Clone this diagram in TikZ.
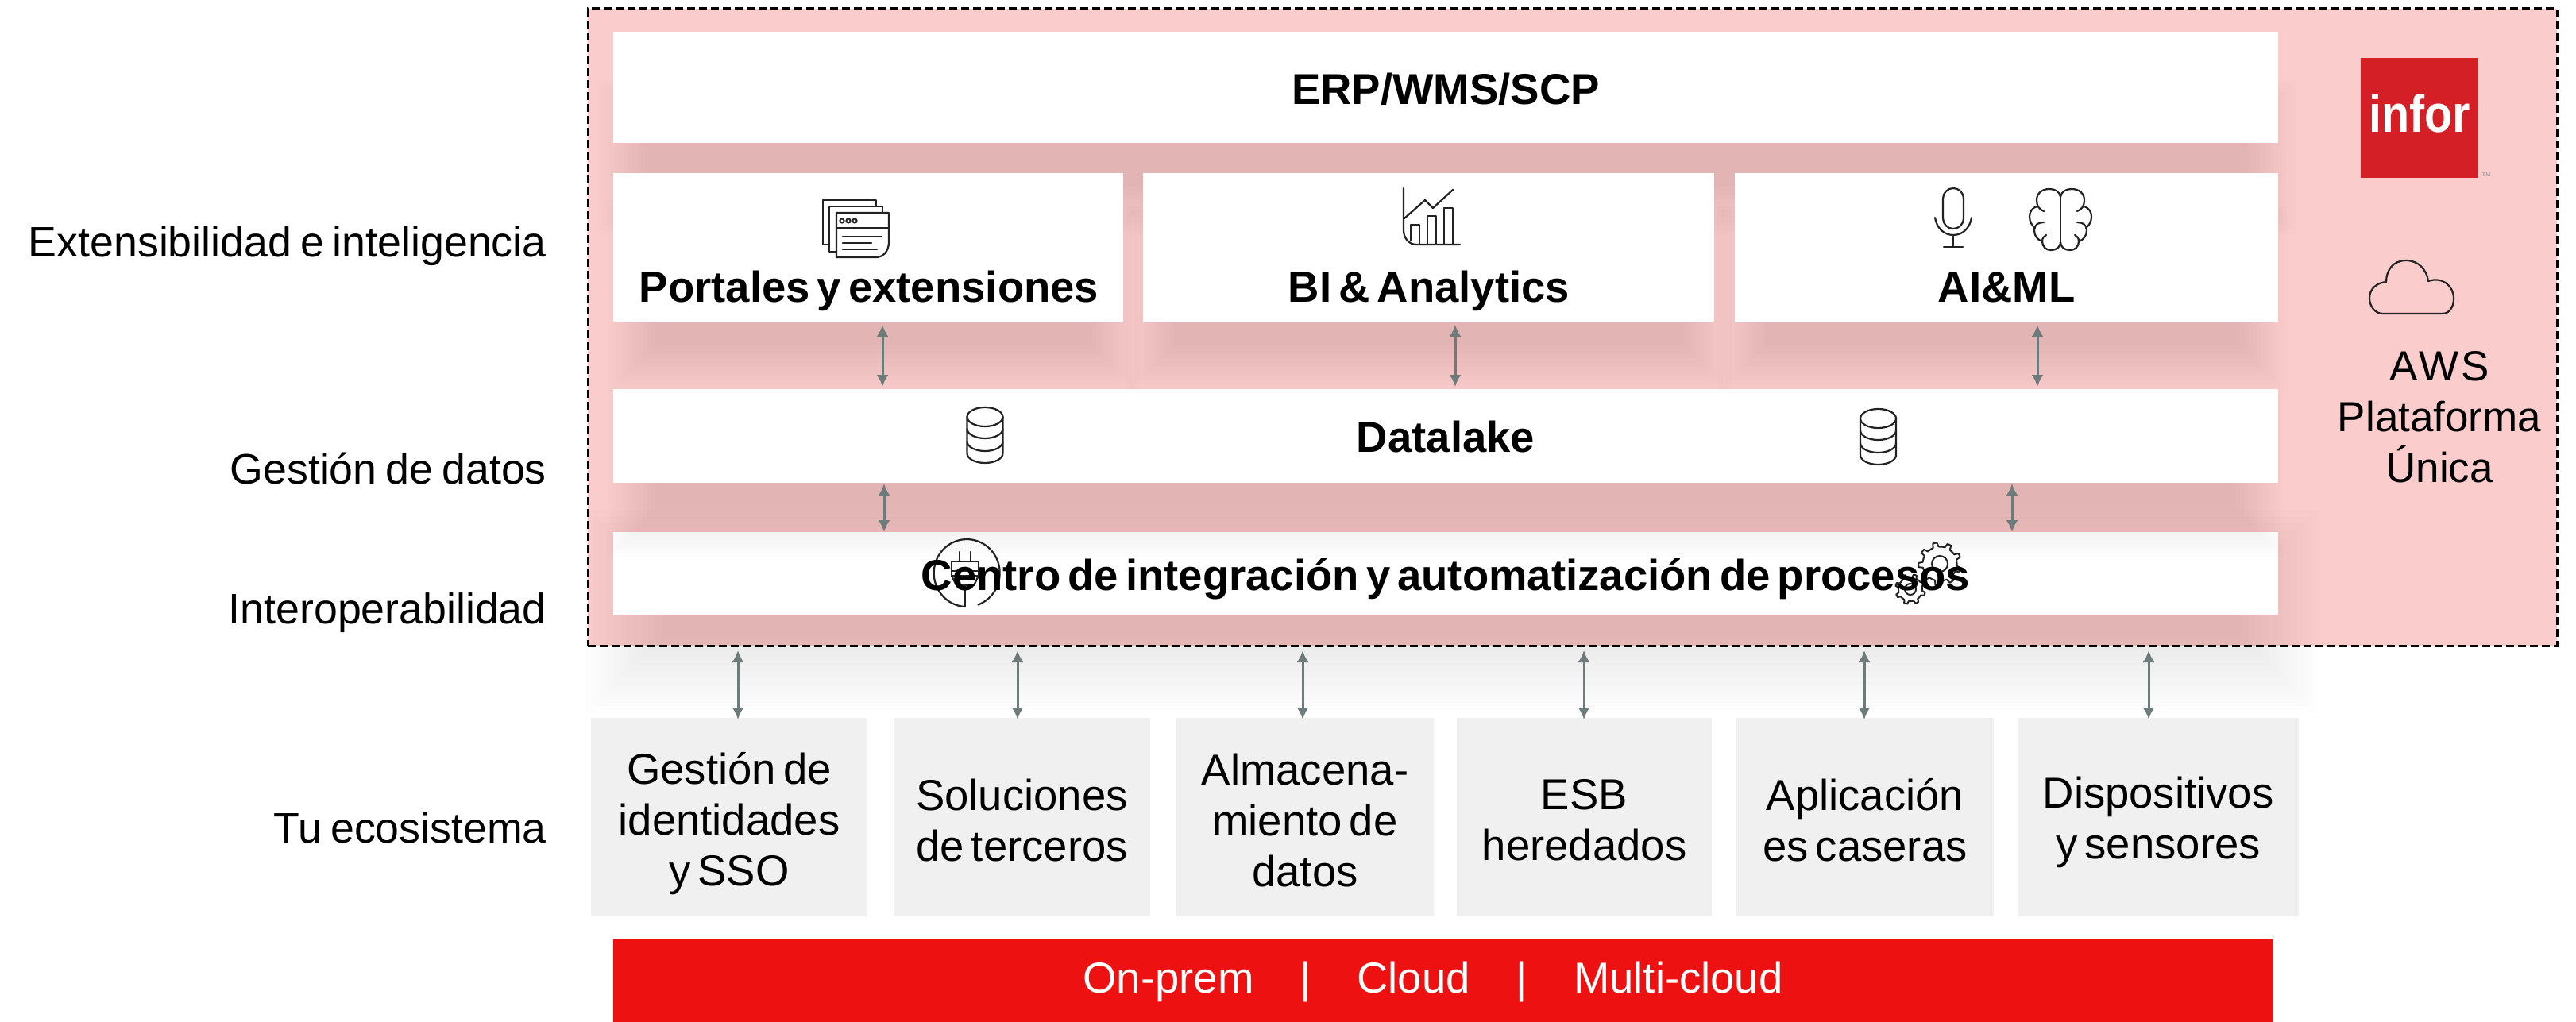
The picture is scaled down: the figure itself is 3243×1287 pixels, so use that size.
\documentclass[tikz,border=0pt]{standalone}
\usepackage{fontspec}
\setmainfont[WordSpace=0.6]{Liberation Sans}
\usetikzlibrary{arrows.meta,calc}
\definecolor{framepink}{HTML}{FBCCCC}
\definecolor{ecogray}{HTML}{F0F0F0}
\definecolor{barred}{HTML}{EE1111}
\definecolor{logored}{HTML}{D41F26}
\definecolor{arrowgray}{HTML}{6E7B7B}
\definecolor{iconink}{HTML}{222222}
\newcommand{\sidesp}{\spaceskip=11pt\relax}
\tikzset{
  panelbox/.style={rectangle,fill=white,inner sep=0pt,outer sep=0pt},
  ecobox/.style={rectangle,fill=ecogray,inner sep=0pt,outer sep=0pt},
  barbox/.style={rectangle,fill=barred,inner sep=0pt,outer sep=0pt},
  logobox/.style={rectangle,fill=logored,inner sep=0pt,outer sep=0pt},
  framebox/.style={rectangle,fill=framepink,draw=black,line width=3pt,dash pattern=on 10pt off 5pt,inner sep=0pt,outer sep=0pt},
  reg/.style={inner sep=0pt,align=center,font=\fontsize{54.5}{64}\selectfont},
  strong/.style={inner sep=0pt,align=center,font=\fontsize{54.5}{64}\selectfont\bfseries},
  sidelabel/.style={inner sep=0pt,anchor=east,font=\fontsize{53.7}{64}\selectfont},
  biarrow/.style={draw=arrowgray,line width=3pt,{Latex[length=15pt,width=15pt]}-{Latex[length=15pt,width=15pt]}},
  icon/.style={draw=iconink,line width=2.2pt,line join=round,line cap=round},
}
\newcommand{\panel}[6]{\node[#6,minimum width={#4-#2},minimum height={#5-#3}] (#1) at ({(#2+#4)/2},{(#3+#5)/2}) {};}
% x1 y1 x2 y2 blur half-width
\newcommand{\blurshadow}[5]{%
  \foreach \i in {0,...,11}{
    \fill[black,opacity=.006] ({#1-#5+\i*#5*2/11},{#2-#5+\i*#5*2/11}) rectangle ({#3+#5-\i*#5*2/11},{#4+#5-\i*#5*2/11});
  }}
\newcommand{\dbicon}[2]{%
  \begin{scope}[shift={(#1,#2)}]
    \draw[icon,fill=white] (-22.5,12) -- (-22.5,58) arc[start angle=180,end angle=0,x radius=22.5,y radius=12] -- (22.5,12);
    \draw[icon] (0,12) ellipse[x radius=22.5,y radius=12];
    \draw[icon] (-22.5,27) arc[start angle=180,end angle=0,x radius=22.5,y radius=12];
    \draw[icon] (-22.5,43) arc[start angle=180,end angle=0,x radius=22.5,y radius=12];
  \end{scope}}
\newcommand{\gearpath}[4]{%
  \pgfmathsetmacro{\gstep}{360/#4}
  \pgfmathsetmacro{\ginner}{#3*0.8}
  \draw[icon,line width=2pt,shift={(#1,#2)}]
    (0:\ginner)
    \foreach \k in {1,...,#4}{
      -- ({(\k-1)*\gstep+.18*\gstep}:\ginner)
      -- ({(\k-1)*\gstep+.28*\gstep}:#3)
      -- ({(\k-1)*\gstep+.55*\gstep}:#3)
      -- ({(\k-1)*\gstep+.65*\gstep}:\ginner)
      -- ({\k*\gstep}:\ginner)
    };}
\newcommand{\brainhalf}[1]{%
  \begin{scope}[shift={(2594,0)},xscale=#1]
    \draw[icon] (0,248) .. controls (1,241) and (7,238) .. (14,238) .. controls (24,238) and (30,244) .. (30,252) .. controls (30,259) and (27,264) .. (21,266);
    \draw[icon] (30,260) .. controls (36,262) and (39,267) .. (39,273) .. controls (39,279) and (36,284) .. (32,287);
    \draw[icon] (21,280) .. controls (28,280) and (33,283) .. (33,290) .. controls (33,297) and (29,302) .. (23,304);
    \draw[icon] (18,296) .. controls (21,297) and (23,300) .. (23,304) .. controls (23,311) and (18,315) .. (12,315) .. controls (5,315) and (0,311) .. (0,305);
  \end{scope}}
\begin{document}
\begin{tikzpicture}[x=1pt,y=-1pt]
\useasboundingbox (0,0) rectangle (3243,1287);
% frame
\panel{frame}{740}{11}{3219}{813}{framebox}
% shadows that lie under everything
\blurshadow{782}{130}{2860}{265}{30}
\blurshadow{795}{290}{1405}{465}{30}
\blurshadow{1448}{290}{2150}{465}{30}
\blurshadow{2192}{290}{2850}{465}{30}
% integration layer
\blurshadow{785}{690}{2870}{850}{48}
\panel{centro}{772}{670}{2868}{774}{panelbox}
% data layer
\blurshadow{795}{520}{2845}{672}{30}
\panel{datalake}{772}{490}{2868}{608}{panelbox}
% top layers
\panel{portales}{772}{218}{1414}{406}{panelbox}
\panel{bi}{1439}{218}{2158}{406}{panelbox}
\panel{aiml}{2184}{218}{2868}{406}{panelbox}
\panel{erp}{772}{40}{2868}{180}{panelbox}
% ecosystem
\panel{ecoa}{744}{904}{1092}{1154}{ecobox}
\panel{ecob}{1125}{904}{1448}{1154}{ecobox}
\panel{ecoc}{1481}{904}{1805}{1154}{ecobox}
\panel{ecod}{1834}{904}{2155}{1154}{ecobox}
\panel{ecoe}{2186}{904}{2510}{1154}{ecobox}
\panel{ecof}{2540}{904}{2894}{1154}{ecobox}
\panel{bar}{772}{1183}{2862}{1287}{barbox}
% logo
\panel{logo}{2972}{73}{3120}{224}{logobox}
\node[inner sep=0pt,anchor=base,text=white,xscale=.87,font=\fontsize{66}{68}\selectfont\bfseries] (logotext) at (3046,166) {infor};
\node[inner sep=0pt,text=black!45,font=\fontsize{7}{8}\selectfont] (logotm) at (3130,220) {TM};
% icons
\begin{scope}
  \draw[icon,fill=white] (1036,252) rectangle (1103,308);
  \draw[icon,fill=white] (1044,260) rectangle (1111,317);
  \draw[icon,fill=white] (1053,268) -- (1119,268) -- (1119,305) .. controls (1119,316) and (1112,324) .. (1103,324) -- (1053,324) -- cycle;
  \draw[icon] (1053,287) -- (1119,287);
  \draw[icon,line width=2pt] (1060,278) circle[radius=2.6] (1068,278) circle[radius=2.6] (1076,278) circle[radius=2.6];
  \draw[icon] (1061,298) -- (1110,298) (1061,306) -- (1097,306) (1061,314) -- (1104,314);
\end{scope}
\begin{scope}
  \draw[icon] (1767,237) -- (1767,290) .. controls (1767,300) and (1774,308) .. (1783,308) -- (1838,308);
  \draw[icon] (1776,303) -- (1776,283) -- (1787,283) -- (1787,308);
  \draw[icon] (1797,308) -- (1797,272) -- (1808,272) -- (1808,308);
  \draw[icon] (1818,308) -- (1818,262) -- (1829,262) -- (1829,308);
  \draw[icon] (1768,275) -- (1794,252) -- (1804,262) -- (1829,239);
\end{scope}
\draw[icon] (2446,250) arc[start angle=180,end angle=360,radius=13] -- (2472,275) arc[start angle=0,end angle=180,radius=13] -- cycle;
\draw[icon] (2436,274) .. controls (2438,287) and (2447,296) .. (2459,296) .. controls (2471,296) and (2480,287) .. (2482,274);
\draw[icon] (2459,296) -- (2459,311) (2447,311) -- (2471,311);
\brainhalf{1}
\brainhalf{-1}
\draw[icon] (2594,247) -- (2594,306);
\draw[icon] (3000,395) .. controls (2990,395) and (2983,386) .. (2983,375) .. controls (2983,364) and (2992,356) .. (3004,355) .. controls (3004,340) and (3013,328) .. (3029,328) .. controls (3045,328) and (3055,340) .. (3057,354) .. controls (3075,348) and (3089,360) .. (3089,376) .. controls (3089,386) and (3084,395) .. (3075,395) -- cycle;
\dbicon{1240}{513}
\dbicon{2364.5}{515}
% plug
\draw[icon] (1215,764) arc[start angle=93,end angle=430,x radius=41.5,y radius=42.5];
\draw[icon] (1198,707) rectangle (1232,725) (1198,719) -- (1232,719);
\draw[icon] (1208,695) -- (1208,707) (1222,695) -- (1222,707);
\draw[icon] (1198,725) -- (1204,737) -- (1226,737) -- (1232,725);
\draw[icon] (1215,737) -- (1215,764);
% gears
\gearpath{2442}{710}{27}{9}
\draw[icon,line width=2pt] (2442,710) circle[radius=10];
\gearpath{2405}{742}{19}{8}
\draw[icon,line width=2pt] (2405,742) circle[radius=7];
% texts
\node[strong] (terp) at (1820,112) {ERP/WMS/SCP};
\node[strong,anchor=base] (tport) at (1094,380) {Portales y extensiones};
\node[strong,anchor=base] (tbi) at (1799,380) {BI \& Analytics};
\node[strong,anchor=base] (tai) at (2526,380) {AI\&ML};
\node[strong,anchor=base] (tdata) at (1820,569) {Datalake};
\node[strong,anchor=base] (tcentro) at (1820,743) {Centro de integración y automatización de procesos};
\node[sidelabel] (la) at (688,310) {\sidesp Extensibilidad e inteligencia};
\node[sidelabel] (lb) at (688,590) {\sidesp Gestión de datos};
\node[sidelabel] (lc) at (688,772) {Interoperabilidad};
\node[sidelabel] (ld) at (688,1042) {\sidesp Tu ecosistema};
\node[reg,font=\fontsize{53}{64}\selectfont] (tplat) at (3071,525) {A\kern2pt W\kern2pt S\\Plataforma\\Única};
\node[reg,yshift=-8pt] at (ecoa) (tea) {Gestión de\\identidades\\y SSO};
\node[reg,yshift=-4pt] at (ecob) (teb) {Soluciones\\de terceros};
\node[reg,yshift=-4pt] at (ecoc) (tec) {Almacena-\\miento de\\datos};
\node[reg,yshift=-4pt] at (ecod) (ted) {ESB\\heredados};
\node[reg,yshift=-4pt] at (ecoe) (tee) {Aplicación\\es caseras};
\node[reg,yshift=-6pt] at (ecof) (tef) {Dispositivos\\y sensores};
\node[reg,text=white,yshift=-4pt] (tbar) at (1804,1233) {On-prem\hspace{58pt}|\hspace{58pt}Cloud\hspace{58pt}|\hspace{58pt}Multi-cloud};
% arrow guides
\coordinate (xa) at (1111,0);
\coordinate (xb) at (1832,0);
\coordinate (xc) at (2565,0);
\coordinate (xd) at (1113,0);
\coordinate (xe) at (2533,0);
\coordinate (xf) at (929,0);
\coordinate (xg) at (1281,0);
\coordinate (xh) at (1640,0);
\coordinate (xi) at (1994,0);
\coordinate (xj) at (2347,0);
\coordinate (xk) at (2705,0);
\draw[biarrow,shorten <=3pt,shorten >=3pt] (portales.south -| xa) -- (datalake.north -| xa);
\draw[biarrow,shorten <=3pt,shorten >=3pt] (bi.south -| xb) -- (datalake.north -| xb);
\draw[biarrow,shorten <=3pt,shorten >=3pt] (aiml.south -| xc) -- (datalake.north -| xc);
\draw[biarrow,shorten <=1pt] (datalake.south -| xd) -- (centro.north -| xd);
\draw[biarrow,shorten <=1pt] (datalake.south -| xe) -- (centro.north -| xe);
\draw[biarrow,shorten <=6pt,shorten >=-2pt] (frame.south -| xf) -- (ecoa.north -| xf);
\draw[biarrow,shorten <=6pt,shorten >=-2pt] (frame.south -| xg) -- (ecob.north -| xg);
\draw[biarrow,shorten <=6pt,shorten >=-2pt] (frame.south -| xh) -- (ecoc.north -| xh);
\draw[biarrow,shorten <=6pt,shorten >=-2pt] (frame.south -| xi) -- (ecod.north -| xi);
\draw[biarrow,shorten <=6pt,shorten >=-2pt] (frame.south -| xj) -- (ecoe.north -| xj);
\draw[biarrow,shorten <=6pt,shorten >=-2pt] (frame.south -| xk) -- (ecof.north -| xk);
\end{tikzpicture}
\end{document}
